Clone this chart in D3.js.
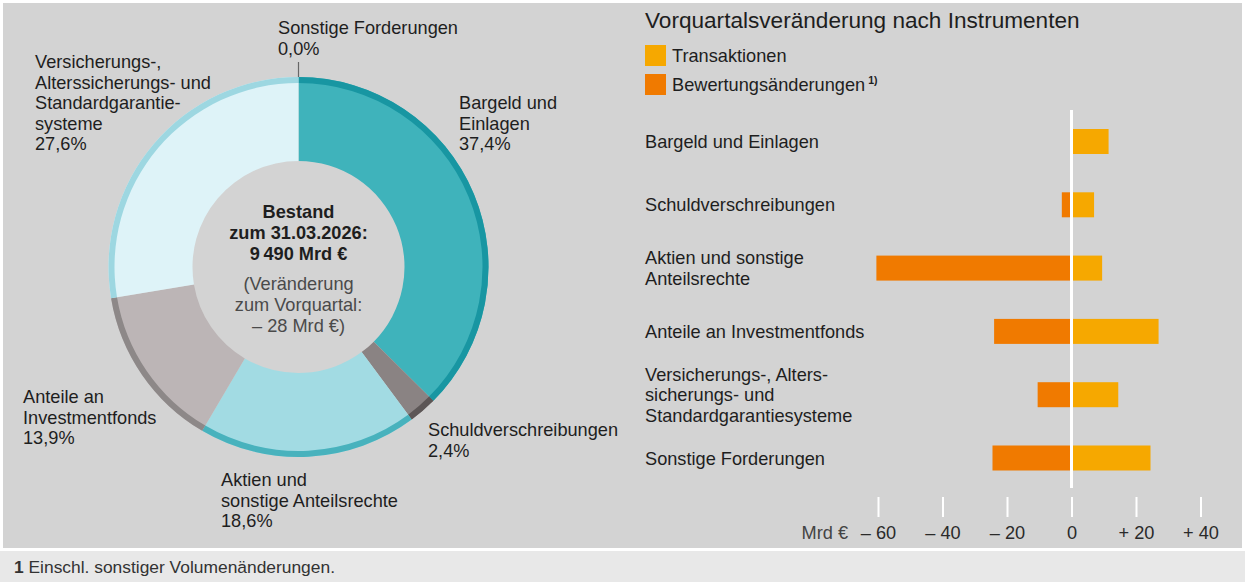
<!DOCTYPE html>
<html><head><meta charset="utf-8">
<script src="https://cdn.jsdelivr.net/npm/d3@7"></script>
<style>
html,body{margin:0;padding:0;background:#fff;}
svg text{font-family:"Liberation Sans",Arial,sans-serif;}
</style></head>
<body>
<svg id="c" width="1245" height="582"></svg>
<script>
// ---- Data ----
const donutCategories = ["Bargeld und Einlagen","Schuldverschreibungen","Aktien und sonstige Anteilsrechte","Anteile an Investmentfonds","Versicherungs-, Alterssicherungs- und Standardgarantiesysteme","Sonstige Forderungen"];
const donutShares = [37.4, 2.4, 18.6, 13.9, 27.6, 0.0];
const donutShareLabels = ["37,4%","2,4%","18,6%","13,9%","27,6%","0,0%"];
const barCategories = ["Bargeld und Einlagen","Schuldverschreibungen","Aktien und sonstige Anteilsrechte","Anteile an Investmentfonds","Versicherungs-, Alterssicherungs- und Standardgarantiesysteme","Sonstige Forderungen"];
const barLabelLines = [["Bargeld und Einlagen"],["Schuldverschreibungen"],["Aktien und sonstige","Anteilsrechte"],["Anteile an Investmentfonds"],["Versicherungs-, Alters-","sicherungs- und","Standardgarantiesysteme"],["Sonstige Forderungen"]];
const transaktionen = [11.5, 7, 9.5, 27, 14.5, 24.5];
const bewertungen = [0, -3, -60.5, -24, -10.5, -24.5];
const xTicks = [-60, -40, -20, 0, 20, 40];
const xTickLabels = ["\u2013 60","\u2013 40","\u2013 20","0","+ 20","+ 40"];
const seriesNames = ["Transaktionen","Bewertungsänderungen"];

// ---- Styles ----
const svg = d3.select("#c");
const BG = "#d3d3d3", TXT = "#1e1e1e", FS = 18.2;
const fillCols = ["#3fb3bb","#8a8383","#a2dbe3","#bcb5b6","#def3f8","#8a8383"];
const bandCols = ["#1896a2","#5c5656","#48b2bd","#8d8888","#9dd7e1","#777"];
const barCols = ["#f6a800","#f07a00"];

svg.append("rect").attr("x",3).attr("y",3).attr("width",1239).attr("height",545).attr("fill",BG);
svg.append("rect").attr("x",0).attr("y",551).attr("width",1245).attr("height",31).attr("fill","#e8e8e8");

// ---- Donut ----
const cx = 298.5, cy = 267, rOut = 190, rIn = 106, band = 6;
const g = svg.append("g").attr("transform",`translate(${cx},${cy})`);
const pie = d3.pie().sort(null).value(d=>d);
const arcs = pie(donutShares);
const arcMain = d3.arc().innerRadius(rIn).outerRadius(rOut);
const arcBand = d3.arc().innerRadius(rOut-band).outerRadius(rOut);
g.selectAll("path.m").data(arcs).join("path").attr("class","m")
  .attr("d",arcMain).attr("fill",(d,i)=>fillCols[i]);
g.selectAll("path.b").data(arcs).join("path").attr("class","b")
  .attr("d",arcBand).attr("fill",(d,i)=>bandCols[i]);
// leader for 0,0%
g.append("line").attr("x1",0).attr("x2",0).attr("y1",-rOut).attr("y2",-rOut-15)
  .attr("stroke","#666").attr("stroke-width",1.2);

function lines(x, y0, arr, opts={}){
  const t = svg.append("text").attr("x",x).attr("y",y0)
    .attr("font-size",opts.size||FS).attr("fill",opts.fill||TXT)
    .attr("text-anchor",opts.anchor||"start")
    .attr("font-weight",opts.weight||"normal");
  arr.forEach((s,i)=>{
    t.append("tspan").attr("x",x).attr("y",y0+i*(opts.lh||20.5)).text(s);
  });
  return t;
}
// donut labels
lines(278, 34, ["Sonstige Forderungen", donutShareLabels[5]]);
lines(35, 68, ["Versicherungs-,","Alterssicherungs- und","Standardgarantie-","systeme",donutShareLabels[4]]);
lines(459, 109, ["Bargeld und","Einlagen",donutShareLabels[0]]);
lines(428, 436, ["Schuldverschreibungen",donutShareLabels[1]]);
lines(23, 403, ["Anteile an","Investmentfonds",donutShareLabels[3]]);
lines(221, 486, ["Aktien und","sonstige Anteilsrechte",donutShareLabels[2]]);
// center text
lines(cx, 218, ["Bestand","zum 31.03.2026:","9\u2009490 Mrd \u20ac"], {anchor:"middle", weight:"bold", lh:21});
lines(cx, 290, ["(Veränderung","zum Vorquartal:","\u2013 28 Mrd \u20ac)"], {anchor:"middle", fill:"#4a4a4a", lh:21});

// ---- Bar chart ----
svg.append("text").attr("x",645).attr("y",28).attr("font-size",22.6).attr("fill",TXT)
  .text("Vorquartalsveränderung nach Instrumenten");
seriesNames.forEach((s,i)=>{
  const y = 45 + i*29;
  svg.append("rect").attr("x",645).attr("y",y).attr("width",21).attr("height",21).attr("fill",barCols[i]);
  const t = svg.append("text").attr("x",672).attr("y",y+17).attr("font-size",FS).attr("fill",TXT).text(s);
  if(i===1) t.append("tspan").attr("dy",-7).attr("dx",3).attr("font-size",10.5).attr("font-weight","bold").text("1)");
});

const x = d3.scaleLinear().domain([-60,40]).range([878,1200.5]);
const y = d3.scalePoint().domain(barCategories).range([141.5,458]);
const bh = 25;
const rows = svg.append("g");
barCategories.forEach((c,i)=>{
  const yc = y(c);
  [transaktionen[i], bewertungen[i]].forEach((v,k)=>{
    if(v===0) return;
    rows.append("rect").attr("x",x(Math.min(0,v))).attr("y",yc-bh/2)
      .attr("width",Math.abs(x(v)-x(0))).attr("height",bh).attr("fill",barCols[k]);
  });
  const L = barLabelLines[i];
  const y0 = yc - (L.length-1)*20.5/2 + 6.5;
  lines(645, y0, L);
});
// zero line
svg.append("line").attr("x1",x(0)).attr("x2",x(0)).attr("y1",110).attr("y2",488)
  .attr("stroke","#fff").attr("stroke-width",3);

// axis
const axis = d3.axisBottom(x).tickValues(xTicks).tickSize(20).tickPadding(9)
  .tickFormat((d,i)=>xTickLabels[i]);
const ag = svg.append("g").attr("transform","translate(0,497)").call(axis);
ag.select(".domain").remove();
ag.selectAll(".tick line").attr("stroke","#fff").attr("stroke-width",2);
ag.selectAll(".tick text").attr("font-size",FS).attr("fill","#2a2a2a")
  .attr("font-family","'Liberation Sans',Arial,sans-serif");
svg.append("text").attr("x",848).attr("y",539).attr("text-anchor","end")
  .attr("font-size",FS).attr("fill","#444").text("Mrd \u20ac");

// footnote
const fn = svg.append("text").attr("x",14).attr("y",573).attr("font-size",17.4).attr("fill","#333");
fn.append("tspan").attr("font-weight","bold").text("1");
fn.append("tspan").text(" Einschl. sonstiger Volumenänderungen.");
</script>
</body></html>
